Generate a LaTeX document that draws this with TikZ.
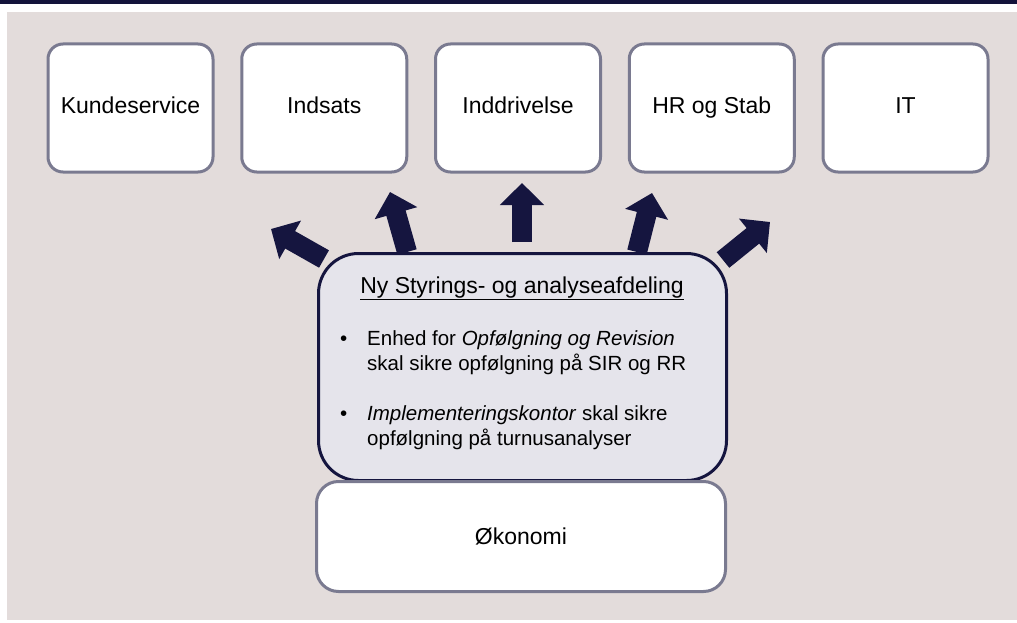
\documentclass[tikz,border=0pt]{standalone}
\usepackage{fontspec}
\setmainfont{Liberation Sans}
\usetikzlibrary{arrows.meta,positioning}

\definecolor{barblue}{HTML}{13133A}
\definecolor{backdrop}{HTML}{E3DCDB}
\definecolor{boxgrey}{HTML}{7A7A90}
\definecolor{navy}{HTML}{15153F}
\definecolor{hubfill}{HTML}{E5E4EB}

\begin{document}
\begin{tikzpicture}
			[
				x = 1pt, y = -1pt,
				node distance = 25.75pt,
				unit/.style = {draw = boxgrey, line width = 3pt, fill = white, rounded corners = 15pt,
					minimum width = 165pt, minimum height = 128pt, text height = 16.5pt, text depth = 4.5pt,
					font = \fontsize{23}{27}\selectfont},
				hub/.style = {draw = navy, line width = 3pt, fill = hubfill, rounded corners = 40pt,
					minimum width = 408pt, minimum height = 227pt},
				base/.style = {draw = boxgrey, line width = 3pt, fill = white, rounded corners = 22pt,
					minimum width = 409pt, minimum height = 110pt, font = \fontsize{23}{27}\selectfont},
				bigarrow/.style = {draw = navy, line width = 20pt, -{Triangle[width = 43pt, length = 22pt]}}
			]
			% page, top bar and backdrop
			\useasboundingbox (0,0) rectangle (1017,623);
			\fill[barblue] (0,0) rectangle (1017,4);
			\fill[backdrop] (7,12) rectangle (1017,620);

			% units along the top
			\node[unit] (kunde) at (130.5,108) {Kundeservice};
			\node[unit, right = of kunde] (indsats) {Indsats};
			\node[unit, right = of indsats] (inddriv) {Inddrivelse};
			\node[unit, right = of inddriv] (hr) {HR og Stab};
			\node[unit, right = of hr] (it) {IT};

			% arrows out of the new department
			\coordinate (a1) at (324,259); \coordinate (t1) at (271,229);
			\coordinate (a2) at (407,252); \coordinate (t2) at (390,192);
			\coordinate (a3) at (522,242); \coordinate (t3) at (522,183);
			\coordinate (a4) at (637,252); \coordinate (t4) at (652,193);
			\coordinate (a5) at (723,260); \coordinate (t5) at (770,222);
			\foreach \i in {1,...,5}
				\draw[bigarrow] (a\i) -- (t\i);

			% the new department
			\node[hub] (styring) at (522.5,367) {};
			\node[anchor = base, font = \fontsize{23}{27}\selectfont] (titel) at (522,293)
				{\underline{Ny Styrings- og analyseafdeling}};
			\node[anchor = base west, inner sep = 0pt, font = \fontsize{20.5}{25}\selectfont] (punkter) at (340,345)
				{\begin{tabular}[t]{@{}p{27pt}@{}l@{}}
					• & Enhed for \textit{Opfølgning og Revision}\\
					  & skal sikre opfølgning på SIR og RR\\[25pt]
					• & \textit{Implementeringskontor} skal sikre\\
					  & opfølgning på turnusanalyser
				\end{tabular}};

			% finance below
			\node[base] (okonomi) at (521,536.5) {Økonomi};
\end{tikzpicture}
\end{document}
